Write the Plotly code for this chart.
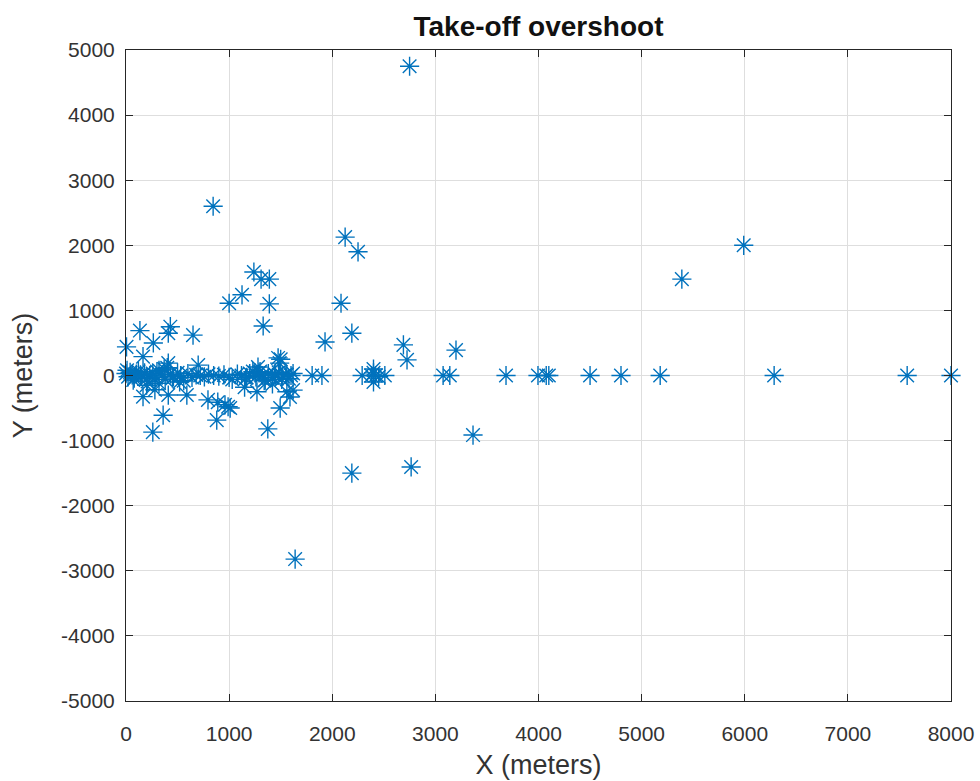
import plotly.graph_objects as go

x_m = [2750, 845, 2125, 2250, 5990, 5390, 1240, 1310, 1390, 1125, 1000, 1390, 2085,
       1330, 2190, 1930, 2690, 3200, 2725,
       5, 135, 265, 410, 430, 650, 165, 410, 700, 1475, 1490, 1280, 1300,
       # near-zero band
       0, 20, 40, 60, 80, 100, 120, 150, 180, 200, 230, 260, 290, 320, 350, 380, 400,
       430, 460, 500, 530, 560, 600, 640, 680, 720, 760, 800, 850, 900, 950, 1000,
       1030, 1080, 1120, 1160, 1200, 1230, 1260, 1290, 1320, 1350, 1380, 1420, 1450,
       1480, 1500, 1520, 1550, 1580, 1600, 1620, 10, 70, 140, 210, 300, 370, 450, 520,
       1170, 1250, 1340, 1440, 1510, 1560,
       1805, 1900, 2290, 2380, 2400, 2420, 2400, 2400, 2450, 2510,
       3075, 3140, 3685, 3995, 4075, 4100, 4500, 4800, 5180, 6285, 7575, 8000,
       # negatives
       3365, 2190, 2765, 1640, 260, 360, 165, 410, 590, 280, 795, 890, 990, 880,
       1270, 1560, 1590, 1495, 1375, 1620, 960, 1010, 200, 320, 1150, 1420]
y_m = [4750, 2600, 2125, 1900, 2000, 1480, 1590, 1480, 1480, 1240, 1110, 1100, 1110,
       760, 650, 515, 470, 390, 240,
       440, 690, 500, 650, 750, 620, 290, 190, 160, 270, 190, 130, 60,
       # near-zero band
       30, -20, 50, 10, -40, 20, 60, -10, 40, -50, 0, 30, -30, 80, 10, -60, 120,
       20, -20, 40, 0, -80, 30, -30, 10, 0, -20, 20, 0, -10, 10, -30,
       -60, 20, 0, -40, 30, 60, -20, 40, 0, -70, 30, -30, 10,
       50, 250, -10, 20, -50, 0, 30, 80, -70, 10, -90, 60, 100, -40, -100,
       -30, 40, -80, 20, -60, 10,
       0, 0, 0, 0, 100, 0, -100, 40, -20, 0,
       0, 0, 0, 0, 0, 0, 0, 0, 0, 0, 0, 0,
       # negatives
       -915, -1500, -1405, -2820, -870, -610, -325, -300, -300, -220, -375, -410, -480, -685,
       -250, -250, -330, -500, -820, -225, -450, -500, -150, -120, -180, -130]

x_ticks = [0, 1000, 2000, 3000, 4000, 5000, 6000, 7000, 8000]
y_ticks = [-5000, -4000, -3000, -2000, -1000, 0, 1000, 2000, 3000, 4000, 5000]

FONT = "Liberation Sans, Arial, sans-serif"

fig = go.Figure()
fig.add_trace(go.Scatter(
    x=x_m, y=y_m, mode="markers",
    marker=dict(symbol="asterisk-open", size=16, color="#0072BD",
                line=dict(color="#0072BD", width=1.4)),
    showlegend=False, cliponaxis=False,
))

axis_common = dict(
    showgrid=True, gridcolor="#dedede", gridwidth=1,
    showline=True, linecolor="#262626", linewidth=1, mirror="ticks",
    ticks="inside", ticklen=7, tickcolor="#262626",
    zeroline=False, automargin=False,
    tickfont=dict(family=FONT, size=21, color="#333333"),
)

fig.update_xaxes(range=[0, 8000], tickvals=x_ticks, ticktext=[str(v) for v in x_ticks],
                 ticklabelstandoff=14,
                 title=dict(text="X (meters)", font=dict(family=FONT, size=27, color="#333333"),
                            standoff=10),
                 **axis_common)
fig.update_yaxes(range=[-5000, 5000], tickvals=y_ticks, ticktext=[str(v) for v in y_ticks],
                 ticklabelstandoff=6,
                 title=dict(text="Y (meters)", font=dict(family=FONT, size=27, color="#333333"),
                            standoff=20),
                 **axis_common)

fig.update_layout(
    width=980, height=781,
    margin=dict(l=126, r=29, t=50, b=80),
    paper_bgcolor="white", plot_bgcolor="white",
    title=dict(text="<b>Take-off overshoot</b>", x=0.5, xanchor="center",
               xref="paper", yref="container", y=1 - 26 / 781, yanchor="middle",
               font=dict(family=FONT, size=28, color="#111111")),
)

fig.write_html("out.html")
